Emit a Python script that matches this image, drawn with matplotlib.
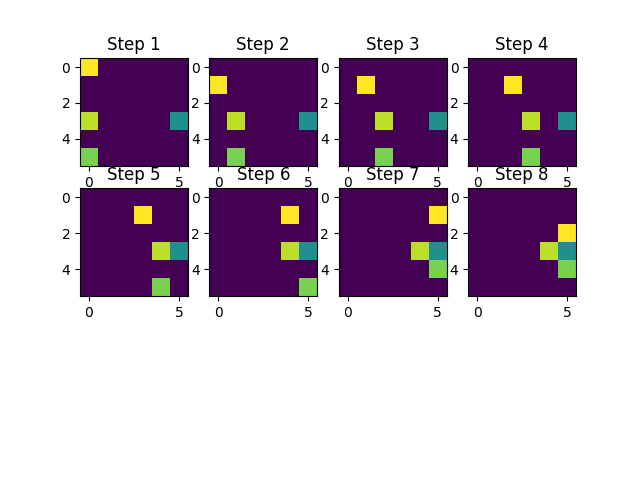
import numpy as np
import matplotlib
matplotlib.use("Agg")
import matplotlib.pyplot as plt

GRID = 6
VAL_A = 1.0    # yellow
VAL_B = 0.9    # yellow-green
VAL_C = 0.8    # light green
VAL_D = 0.5    # teal

# (row, col) of each coloured cell per step
pos_a = [(0, 0), (1, 0), (1, 1), (1, 2), (1, 3), (1, 4), (1, 5), (2, 5)]
pos_b = [(3, 0), (3, 1), (3, 2), (3, 3), (3, 4), (3, 4), (3, 4), (3, 4)]
pos_c = [(5, 0), (5, 1), (5, 2), (5, 3), (5, 4), (5, 5), (4, 5), (4, 5)]
pos_d = [(3, 5)] * 8

titles = [f"Step {i}" for i in range(1, 9)]

fig, axes = plt.subplots(3, 4, figsize=(6.4, 4.8))

for i, ax in enumerate(axes.flat):
    if i >= len(titles):
        ax.axis("off")
        continue
    grid = np.zeros((GRID, GRID))
    grid[pos_d[i]] = VAL_D
    grid[pos_c[i]] = VAL_C
    grid[pos_b[i]] = VAL_B
    grid[pos_a[i]] = VAL_A
    ax.imshow(grid, cmap="viridis", vmin=0, vmax=1)
    ax.set_title(titles[i])

plt.savefig("out.png", dpi=100)
